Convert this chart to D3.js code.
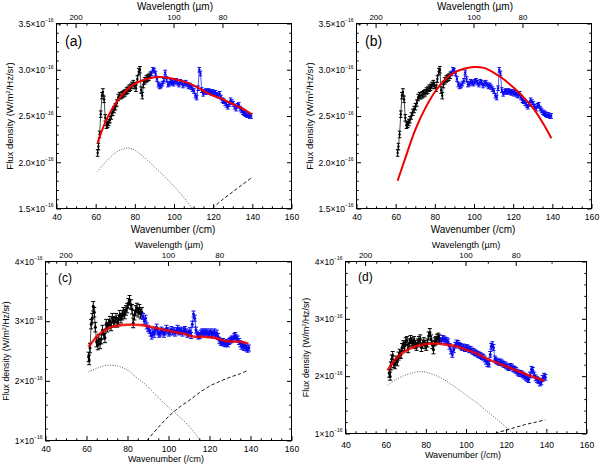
<!DOCTYPE html>
<html><head><meta charset="utf-8">
<script src="https://cdn.jsdelivr.net/npm/d3@7"></script>
<style>
body{margin:0;background:#fff}
svg{display:block}
text{font-family:"Liberation Sans",Arial,Helvetica,sans-serif;fill:#000}
</style>
</head><body>
<svg id="chart" width="600" height="465"></svg>
<script>
// ---------- shared axis values ----------
const xDomain = [40, 160];
const xMajorTicks = [40, 60, 80, 100, 120, 140, 160];
const wlMajorTicks = [200, 100, 80];
const wlMinorTicks = [240, 220, 180, 160, 140, 120, 90, 70];

// ---------- data of panels (a) and (b) (same observations) ----------
const abBlackWn = [61.0,61.4,62.0,62.6,63.2,63.7,64.3,64.9,65.5,66.1,66.7,67.3,68.0,68.7,69.4,70.1,70.8,71.5,72.2,72.9,73.6,74.3,75.0,75.7,76.4,77.1,77.8,78.5,79.2,79.9,80.6,81.3,82.0,82.6,83.2,83.8,84.4,85.1,85.8,86.5,87.2,87.9];
const abBlackFlux = [2.10,2.17,2.30,2.52,2.72,2.76,2.68,2.48,2.40,2.41,2.43,2.46,2.50,2.54,2.57,2.60,2.64,2.70,2.72,2.72,2.73,2.74,2.75,2.77,2.78,2.80,2.81,2.83,2.85,2.83,2.80,2.90,2.98,3.00,2.78,2.72,2.84,2.88,2.90,2.91,2.92,2.94];
const abBlueWn = [88.5,89.2,89.9,90.6,91.3,92.0,92.7,93.4,94.1,94.8,95.5,96.2,96.9,97.6,98.3,99.0,99.7,100.4,101.1,101.8,102.5,103.2,103.9,104.6,105.3,106.0,106.7,107.4,108.1,108.8,109.5,110.2,110.9,111.6,112.3,112.9,113.5,114.2,114.9,115.6,116.3,117.0,117.7,118.4,119.1,119.8,120.5,121.2,121.9,122.6,123.3,124.0,124.7,125.4,126.1,126.8,127.5,128.2,128.9,129.6,130.3,131.0,131.7,132.4,133.1,133.8,134.5,135.2,135.9,136.6,137.3,138.0,138.7,139.4];
const abBlueFlux = [2.96,3.00,2.99,2.96,2.90,2.84,2.82,2.83,2.85,2.88,2.97,2.90,2.84,2.85,2.87,2.86,2.85,2.87,2.88,2.86,2.84,2.87,2.86,2.83,2.85,2.86,2.84,2.82,2.83,2.81,2.79,2.77,2.72,2.70,2.80,3.00,2.96,2.78,2.74,2.76,2.77,2.76,2.77,2.76,2.75,2.76,2.74,2.75,2.73,2.72,2.74,2.70,2.67,2.66,2.64,2.62,2.60,2.63,2.67,2.65,2.63,2.60,2.58,2.61,2.62,2.58,2.56,2.54,2.53,2.52,2.51,2.51,2.50,2.50];
const abBlackErr = 0.035, abBlueErr = 0.025;

const aFitWn   = [61,63,65.5,68,71,74,78,82,86,90,95,100,104,108,112,116,120,124,128,132,136,139.5];
const aFitFlux = [2.21,2.33,2.46,2.56,2.66,2.74,2.82,2.87,2.90,2.92,2.92,2.90,2.88,2.85,2.81,2.76,2.72,2.69,2.65,2.61,2.57,2.52];
const aDotWn   = [61,65,70,75,78,82,86,90,95,100,105,109.5];
const aDotFlux = [1.90,2.00,2.10,2.15,2.15,2.10,2.03,1.95,1.85,1.74,1.62,1.50];
const aDashWn   = [119.5,125,130,135,139.5];
const aDashFlux = [1.50,1.60,1.68,1.76,1.83];

const bFitWn   = [61,65,70,75,80,85,90,95,100,105,110,115,120,125,130,135,139.5];
const bFitFlux = [1.80,2.05,2.35,2.58,2.76,2.89,2.97,3.01,3.03,3.02,2.97,2.90,2.81,2.71,2.59,2.43,2.26];

// ---------- data of panel (c) ----------
const cBlackWn = [61.0,61.3,61.7,62.3,62.8,63.3,63.8,64.3,64.9,65.5,66.0,66.6,67.2,67.8,68.4,69.0,69.6,70.2,70.8,71.4,72.0,72.6,73.2,73.8,74.4,75.0,75.6,76.2,76.8,77.4,78.0,78.6,79.2,79.8,80.4,81.0,81.6,82.2,82.8,83.4,84.0,84.6,85.2,85.8,86.4,87.0];
const cBlackFlux = [2.40,2.35,2.55,2.95,3.05,3.25,3.15,2.90,2.65,2.60,2.70,2.62,2.70,2.85,2.78,2.72,2.95,2.90,2.95,3.00,2.92,3.05,2.98,3.00,3.05,2.98,3.02,3.10,3.05,3.10,3.15,3.12,3.18,3.22,3.30,3.35,3.28,3.20,2.97,3.10,3.18,3.22,3.15,3.20,3.12,3.15];
const cBlueWn = [87.6,88.2,88.8,89.4,90.0,90.6,91.2,91.8,92.4,93.0,93.6,94.2,94.8,95.4,96.0,96.6,97.2,97.8,98.4,99.0,99.6,100.2,100.8,101.4,102.0,102.6,103.2,103.8,104.4,105.0,105.6,106.2,106.8,107.4,108.0,108.6,109.2,109.8,110.4,111.0,111.6,112.2,112.8,113.4,114.0,114.6,115.2,115.8,116.4,117.0,117.6,118.2,118.8,119.4,120.0,120.6,121.2,121.8,122.4,123.0,123.6,124.2,124.8,125.4,126.0,126.6,127.2,127.8,128.4,129.0,129.6,130.2,130.8,131.4,132.0,132.6,133.2,133.8,134.4,135.0,135.6,136.2,136.8,137.4,138.0,138.6,139.2];
const cBlueFlux = [3.08,3.00,3.05,2.92,2.88,2.85,2.80,2.75,2.82,2.78,2.85,2.90,2.82,2.78,2.80,2.85,2.82,2.78,2.82,2.88,2.84,2.80,2.82,2.86,2.82,2.84,2.80,2.84,2.88,2.82,2.85,2.83,2.80,2.84,2.86,2.82,2.78,2.80,2.84,2.76,2.95,3.12,3.05,2.85,2.78,2.75,2.76,2.80,2.82,2.80,2.82,2.80,2.82,2.78,2.80,2.82,2.78,2.80,2.82,2.76,2.80,2.74,2.68,2.65,2.64,2.66,2.63,2.62,2.64,2.62,2.66,2.68,2.70,2.70,2.74,2.76,2.72,2.70,2.66,2.62,2.58,2.60,2.56,2.58,2.55,2.53,2.55];
const cBlackErr = 0.08, cBlueErr = 0.05;

const cFitWn   = [61,64,67,70,73,76,80,84,88,92,96,100,104,108,110,113,116,120,124,127,130,133,136,139];
const cFitFlux = [2.57,2.70,2.80,2.87,2.91,2.93,2.94,2.94,2.93,2.90,2.87,2.84,2.81,2.79,2.76,2.74,2.74,2.73,2.71,2.67,2.66,2.66,2.65,2.62];
const cDotWn   = [61,65,70,75,80,85,90,95,100,104,110,115.5];
const cDotFlux = [2.15,2.21,2.26,2.25,2.18,2.04,1.90,1.72,1.56,1.44,1.24,1.00];
const cDashWn   = [89.5,95,100,105,110,115,120,125,130,135,139];
const cDashFlux = [1.00,1.22,1.40,1.55,1.67,1.80,1.91,1.99,2.06,2.12,2.18];

// ---------- data of panel (d) ----------
const dBlackWn = [61.8,62.2,62.6,63.0,63.5,64.0,64.6,65.2,65.8,66.4,67.0,67.6,68.2,68.8,69.4,70.0,70.6,71.2,71.8,72.4,73.0,73.6,74.2,74.8,75.4,76.0,76.6,77.2,77.8,78.4,79.0,79.6,80.2,80.8,81.4,82.0,82.6,83.2,83.8,84.4,85.0,85.6,86.2,86.8];
const dBlackFlux = [2.05,2.00,2.18,2.30,2.36,2.22,2.20,2.28,2.25,2.35,2.40,2.38,2.50,2.55,2.52,2.60,2.62,2.48,2.58,2.64,2.60,2.58,2.62,2.55,2.52,2.58,2.62,2.65,2.50,2.56,2.60,2.55,2.52,2.58,2.70,2.76,2.65,2.55,2.46,2.60,2.62,2.66,2.68,2.65];
const dBlueWn = [87.6,88.3,89.0,89.7,90.4,91.1,91.8,92.5,93.2,93.9,94.6,95.3,96.0,96.7,97.4,98.1,98.8,99.5,100.2,100.9,101.6,102.3,103.0,103.7,104.4,105.1,105.8,106.5,107.2,107.9,108.6,109.3,110.0,110.7,111.4,112.1,112.6,113.1,113.7,114.4,115.1,115.8,116.5,117.2,117.9,118.6,119.3,120.0,120.7,121.4,122.1,122.8,123.5,124.2,124.9,125.6,126.3,127.0,127.7,128.4,129.1,129.8,130.5,131.2,131.9,132.6,133.3,134.0,134.7,135.4,136.1,136.8,137.5,138.2,138.9,139.5];
const dBlueFlux = [2.62,2.66,2.65,2.63,2.62,2.60,2.52,2.44,2.38,2.46,2.54,2.58,2.57,2.54,2.52,2.50,2.51,2.48,2.50,2.49,2.46,2.47,2.44,2.43,2.41,2.40,2.38,2.37,2.36,2.34,2.33,2.30,2.26,2.22,2.21,2.38,2.52,2.55,2.50,2.30,2.27,2.25,2.24,2.25,2.23,2.21,2.20,2.18,2.16,2.15,2.17,2.16,2.13,2.12,2.10,2.07,2.05,2.05,2.04,2.02,2.00,1.98,1.96,1.94,2.02,2.12,2.10,2.02,1.97,1.94,1.92,1.88,1.90,1.96,2.00,1.98];
const dBlackErr = 0.07, dBlueErr = 0.05;

const dFitWn   = [61,65,70,75,80,85,90,95,100,105,110,115,120,125,130,135,139];
const dFitFlux = [2.10,2.30,2.44,2.52,2.56,2.57,2.55,2.52,2.46,2.40,2.31,2.24,2.17,2.10,2.03,1.97,1.92];
const dDotWn   = [61,65,70,75,78,82,88,93,97,102,106,110,115,120,123.5];
const dDotFlux = [1.84,1.94,2.02,2.07,2.08,2.05,1.96,1.85,1.75,1.62,1.52,1.40,1.26,1.11,1.00];
const dDashWn   = [114.5,120,125,130,135,139.5];
const dDashFlux = [1.00,1.06,1.11,1.16,1.20,1.24];

// ---------- drawing ----------
const svg = d3.select("#chart");
const zip = (a, b) => a.map((v, i) => [v, b[i]]);
const range = (a, b, s) => d3.range(Math.round((b - a) / s) + 1).map(i => +(a + i * s).toFixed(4));

function drawPanel(P) {
  const x = d3.scaleLinear().domain(xDomain).range([P.l, P.r]);
  const y = d3.scaleLinear().domain(P.yDomain).range([P.b, P.t]);
  const g = svg.append("g");
  const clipId = "clip-" + P.id;
  g.append("clipPath").attr("id", clipId).append("rect")
    .attr("x", P.l).attr("y", P.t).attr("width", P.r - P.l).attr("height", P.b - P.t);
  const plot = g.append("g").attr("clip-path", `url(#${clipId})`);
  const smooth = d3.line().x(d => x(d[0])).y(d => y(d[1])).curve(d3.curveCatmullRom);
  const straight = d3.line().x(d => x(d[0])).y(d => y(d[1]));

  if (P.dot) plot.append("path").datum(zip(P.dot[0], P.dot[1])).attr("d", smooth)
    .attr("fill", "none").attr("stroke", "#222").attr("stroke-width", 0.8).attr("stroke-dasharray", "0.9,1.6");
  if (P.dash) plot.append("path").datum(zip(P.dash[0], P.dash[1])).attr("d", smooth)
    .attr("fill", "none").attr("stroke", "#000").attr("stroke-width", 0.9).attr("stroke-dasharray", "3.5,2.2");

  P.series.forEach(s => {
    const pts = zip(s.wn, s.flux);
    plot.append("path").datum(pts).attr("d", straight)
      .attr("fill", "none").attr("stroke", s.color).attr("stroke-width", 0.7);
    const eb = plot.append("g").attr("stroke", s.color).attr("stroke-width", 1)
      .selectAll("g").data(pts).join("g");
    eb.append("line").attr("x1", d => x(d[0])).attr("x2", d => x(d[0]))
      .attr("y1", d => y(d[1] - s.err)).attr("y2", d => y(d[1] + s.err));
    eb.append("line").attr("x1", d => x(d[0]) - P.cap).attr("x2", d => x(d[0]) + P.cap)
      .attr("y1", d => y(d[1] - s.err)).attr("y2", d => y(d[1] - s.err));
    eb.append("line").attr("x1", d => x(d[0]) - P.cap).attr("x2", d => x(d[0]) + P.cap)
      .attr("y1", d => y(d[1] + s.err)).attr("y2", d => y(d[1] + s.err));
    plot.append("g").selectAll("circle").data(pts).join("circle")
      .attr("cx", d => x(d[0])).attr("cy", d => y(d[1])).attr("r", P.markR).attr("fill", s.color);
  });

  plot.append("path").datum(zip(P.fit[0], P.fit[1])).attr("d", smooth)
    .attr("fill", "none").attr("stroke", "#ee0000").attr("stroke-width", P.fitW)
    .attr("stroke-opacity", P.fitOpacity || 1);

  // axes (inward ticks, no domain path)
  const xMinor = range(40, 160, 5).filter(v => !xMajorTicks.includes(v));
  const yMinor = range(P.yDomain[0], P.yDomain[1], P.yMinorStep).filter(v => !P.yMajor.some(m => Math.abs(m - v) < 1e-6));
  const strip = sel => sel.select(".domain").remove();

  g.append("g").attr("transform", `translate(0,${P.b})`)
    .call(d3.axisBottom(x).tickValues(xMinor).tickSize(-2.2).tickFormat("")).call(strip);
  const bx = g.append("g").attr("transform", `translate(0,${P.b})`)
    .call(d3.axisBottom(x).tickValues(xMajorTicks).tickSize(-4.5).tickPadding(P.xPad).tickFormat(d3.format("d")))
    .call(strip);
  bx.selectAll("text").attr("font-size", P.tickFs).attr("font-family", null);

  [[d3.axisLeft, P.l], [d3.axisRight, P.r]].forEach(([ax, pos]) => {
    g.append("g").attr("transform", `translate(${pos},0)`)
      .call(ax(y).tickValues(yMinor).tickSize(-2.2).tickFormat("")).call(strip);
  });
  g.append("g").attr("transform", `translate(${P.r},0)`)
    .call(d3.axisRight(y).tickValues(P.yMajor).tickSize(-4.5).tickFormat("")).call(strip);
  const ly = g.append("g").attr("transform", `translate(${P.l},0)`)
    .call(d3.axisLeft(y).tickValues(P.yMajor).tickSize(-4.5).tickPadding(3).tickFormat(P.yFmt)).call(strip);
  ly.selectAll(".tick text").each(function(d) {
    const t = d3.select(this);
    t.text(null).attr("font-size", P.tickFs).attr("font-family", null).attr("dy", "0.32em");
    t.append("tspan").text(P.yFmt(d) + "\u00d710");
    t.append("tspan").attr("font-size", 5).attr("dy", "-0.9em").text("\u221216");
  });

  // top wavelength axis
  const top = g.append("g");
  top.selectAll("line.mn").data(wlMinorTicks).join("line")
    .attr("x1", d => x(1e4 / d)).attr("x2", d => x(1e4 / d))
    .attr("y1", P.t).attr("y2", P.t + 2.2).attr("stroke", "#000");
  top.selectAll("line.mj").data(wlMajorTicks).join("line")
    .attr("x1", d => x(1e4 / d)).attr("x2", d => x(1e4 / d))
    .attr("y1", P.t).attr("y2", P.t + 4.5).attr("stroke", "#000");
  top.selectAll("text").data(wlMajorTicks).join("text")
    .attr("x", d => x(1e4 / d)).attr("y", P.t - P.topPad).attr("text-anchor", "middle")
    .attr("font-size", P.topFs).text(d => d);

  // frame
  g.append("rect").attr("x", P.l).attr("y", P.t).attr("width", P.r - P.l).attr("height", P.b - P.t)
    .attr("fill", "none").attr("stroke", "#000").attr("stroke-width", 1);

  // titles
  g.append("text").attr("x", P.topTitleX).attr("y", P.t - P.topTitleOff).attr("text-anchor", "middle")
    .attr("font-size", P.titleFs).text("Wavelength (\u00b5m)");
  g.append("text").attr("x", P.botTitleX).attr("y", P.b + P.botTitleOff).attr("text-anchor", "middle")
    .attr("font-size", P.titleFs).text("Wavenumber (/cm)");
  const yt = g.append("text").attr("transform", `translate(${P.yTitleX},${(P.t + P.b) / 2}) rotate(-90)`)
    .attr("text-anchor", "middle").attr("font-size", P.yTitleFs);
  yt.append("tspan").text("Flux density (W/m");
  yt.append("tspan").attr("font-size", P.yTitleFs * 0.62).attr("dy", "-0.55em").text("2");
  yt.append("tspan").attr("dy", "0.35em").text("/Hz/sr)");
  g.append("text").attr("x", P.labelX).attr("y", P.labelY).attr("font-size", P.labelFs).text(P.label);
}

const fmt1 = d3.format(".1f"), fmt0 = d3.format("d");
const baseAB = {yDomain: [1.5, 3.5], yMajor: [1.5, 2, 2.5, 3, 3.5], yMinorStep: 0.1, yFmt: fmt1,
  t: 23.5, b: 208.5, tickFs: 8.6, topFs: 8, titleFs: 10, yTitleFs: 9.5, labelFs: 14,
  xPad: 5, topPad: 3.5, topTitleOff: 14, botTitleOff: 24, cap: 1.8, markR: 1.2,
  series: [{wn: abBlackWn, flux: abBlackFlux, err: abBlackErr, color: "#000"},
           {wn: abBlueWn, flux: abBlueFlux, err: abBlueErr, color: "#0a0af0"}]};

drawPanel(Object.assign({}, baseAB, {id: "a", l: 56.5, r: 291.5, label: "(a)", labelX: 65, labelY: 46,
  topTitleX: 175, botTitleX: 173, yTitleX: 13, fitW: 2,
  fit: [aFitWn, aFitFlux], dot: [aDotWn, aDotFlux], dash: [aDashWn, aDashFlux]}));
drawPanel(Object.assign({}, baseAB, {id: "b", l: 356.5, r: 591.5, label: "(b)", labelX: 365, labelY: 46,
  topTitleX: 475, botTitleX: 473, yTitleX: 313, fitW: 2,
  fit: [bFitWn, bFitFlux]}));

const baseCD = {yDomain: [1, 4], yMajor: [1, 2, 3, 4], yMinorStep: 0.2, yFmt: fmt0,
  tickFs: 8.6, topFs: 8, titleFs: 9, yTitleFs: 8.8, labelFs: 12, topPad: 4, topTitleOff: 14,
  fitW: 2.6, fitOpacity: 0.85, cap: 2, markR: 1.5};
drawPanel(Object.assign({}, baseCD, {id: "c", l: 45.5, r: 291.5, t: 261.5, b: 440.5,
  label: "(c)", labelX: 58, labelY: 282, xPad: 5, botTitleOff: 21.5,
  topTitleX: 169, botTitleX: 166, yTitleX: 9,
  series: [{wn: cBlackWn, flux: cBlackFlux, err: cBlackErr, color: "#000"},
           {wn: cBlueWn, flux: cBlueFlux, err: cBlueErr, color: "#0a0af0"}],
  fit: [cFitWn, cFitFlux], dot: [cDotWn, cDotFlux], dash: [cDashWn, cDashFlux]}));
drawPanel(Object.assign({}, baseCD, {id: "d", l: 345.5, r: 586.5, t: 261.5, b: 433.5,
  label: "(d)", labelX: 358, labelY: 281, xPad: 8.5, botTitleOff: 24.5,
  topTitleX: 466, botTitleX: 463, yTitleX: 309,
  series: [{wn: dBlackWn, flux: dBlackFlux, err: dBlackErr, color: "#000"},
           {wn: dBlueWn, flux: dBlueFlux, err: dBlueErr, color: "#0a0af0"}],
  fit: [dFitWn, dFitFlux], dot: [dDotWn, dDotFlux], dash: [dDashWn, dDashFlux]}));
</script>
</body></html>
